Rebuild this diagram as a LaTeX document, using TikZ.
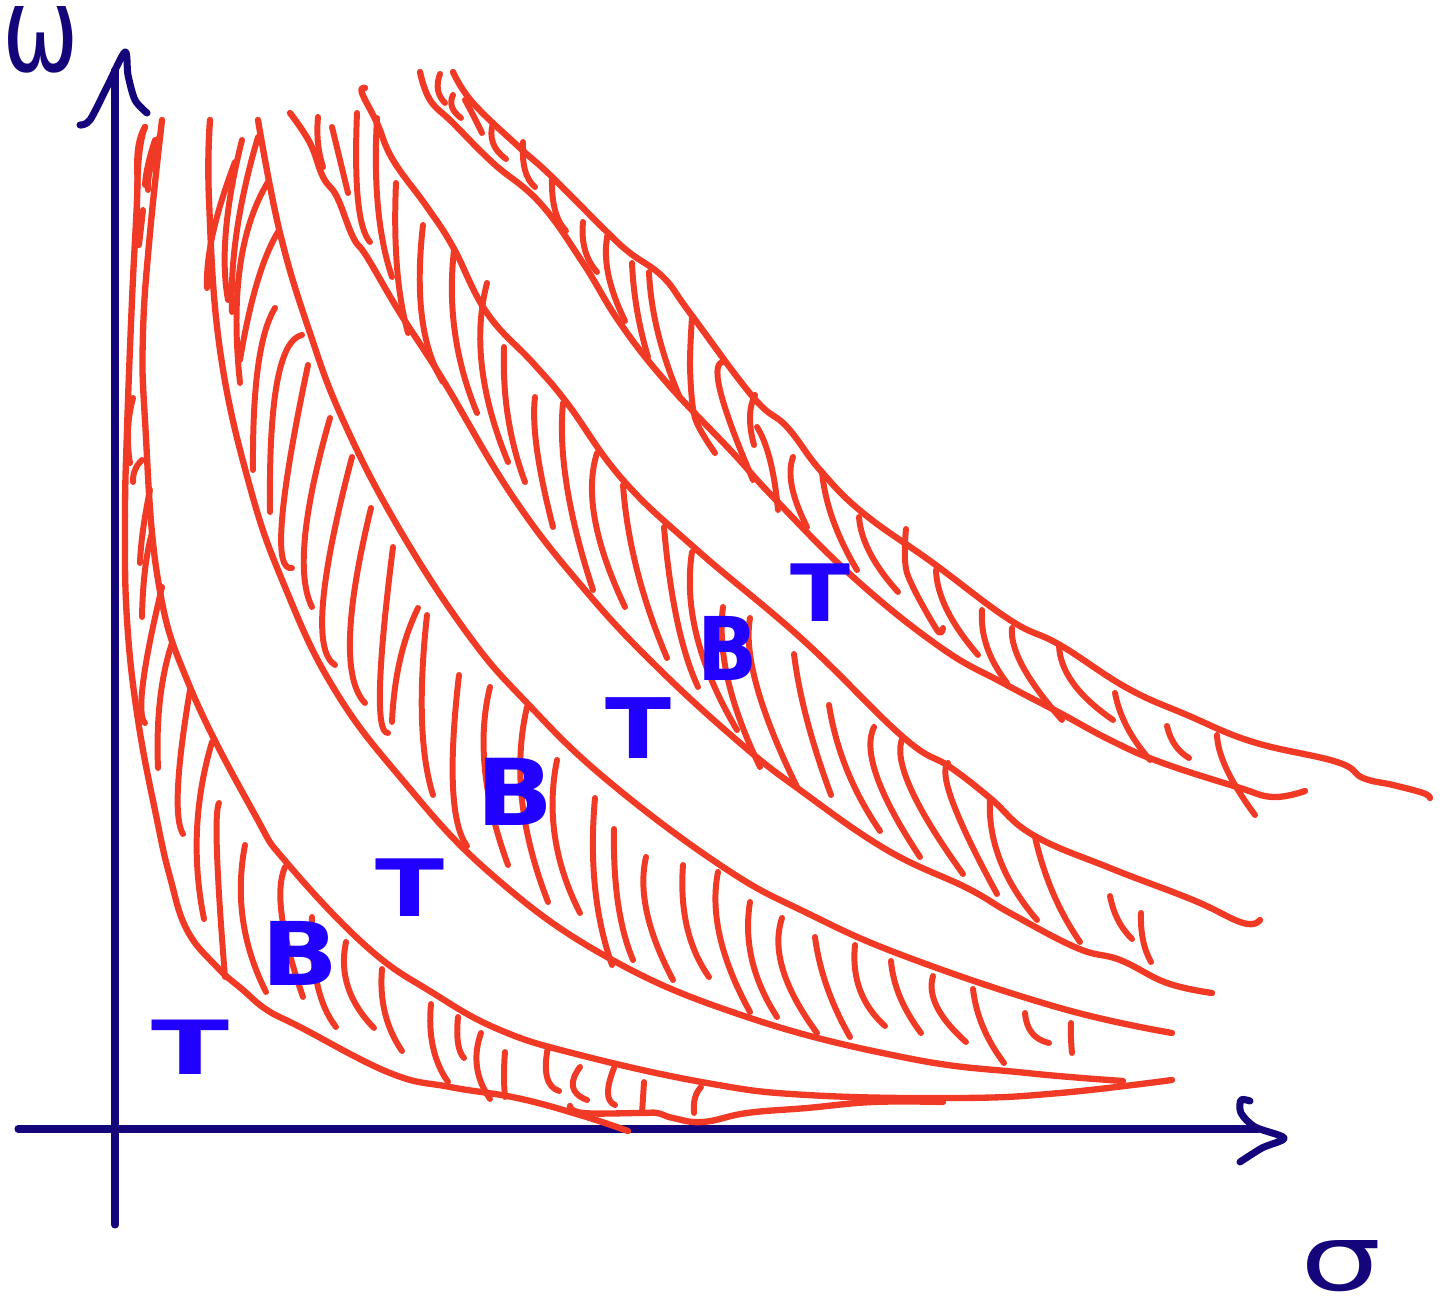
\documentclass[tikz,border=0pt]{standalone}
\usepackage{fontspec}
\setmainfont{DejaVu Sans}
\usepackage{tikz}
\definecolor{axisnavy}{HTML}{14057A}
\definecolor{bandred}{HTML}{F03A25}
\definecolor{markblue}{HTML}{2200FF}

\begin{document}
\begin{tikzpicture}[x=0.01cm, y=-0.01cm, line cap=round, line join=round,
        axis/.style={draw=axisnavy, line width=2pt},
        edge/.style={draw=bandred, line width=1.8pt},
        hatch/.style={draw=bandred, line width=1.7pt},
        letter/.style={text=markblue, font=\bfseries\fontsize{25}{25}\selectfont, inner sep=0pt},
        axislabel/.style={text=axisnavy, font=\fontsize{26}{26}\selectfont, inner sep=0pt}]
    \useasboundingbox (0,0) rectangle (1454,1301);

    \coordinate (xstart) at (18,1129);
    \coordinate (xend) at (1258,1129);
    \coordinate (ystart) at (115,1225);
    \coordinate (yend) at (115,70);
    \draw[axis] (xstart) -- (xend);
    \draw[axis] (ystart) -- (yend);
    \draw[axis] plot[smooth] coordinates {(80,125) (90,120) (108,85) (125,52) (128,75) (135,100) (147,113)};
    \draw[axis] plot[smooth] coordinates {(1250,1101) (1241,1100) (1241,1113) (1255,1127) (1284,1138) (1262,1148) (1240,1162)};

    \draw[edge] plot[smooth, tension=0.7] coordinates {(145,127) (138,150) (137,200) (132,300) (127,430) (125,520) (127,620) (138,720) (157,820) (170,877) (187,930) (217,967) (243,990) (267,1010) (300,1027) (390,1073) (450,1087) (517,1098) (580,1115) (628,1131)};
    \draw[edge] plot[smooth, tension=0.7] coordinates {(162,120) (150,233) (143,333) (145,420) (158,580) (190,687) (255,815) (287,863) (367,947) (433,993) (500,1030) (580,1055) (707,1083) (807,1095) (960,1098) (1060,1093) (1172,1080)};
    \draw[edge] plot[smooth, tension=0.7] coordinates {(570,1106) (583,1113) (640,1113) (657,1113) (673,1118) (703,1122) (747,1113) (807,1108) (873,1102) (943,1102)};
    \draw[edge] plot[smooth, tension=0.7] coordinates {(210,120) (209,200) (220,350) (250,487) (285,587) (333,687) (400,777) (490,873) (607,957) (747,1017) (907,1058) (1027,1073) (1123,1081)};
    \draw[edge] plot[smooth, tension=0.7] coordinates {(258,120) (280,233) (310,333) (343,420) (397,525) (467,633) (527,703) (607,780) (723,867) (807,913) (907,957) (1060,1008) (1172,1033)};
    \draw[edge] plot[smooth, tension=0.7] coordinates {(290,113) (310,143) (323,177) (337,197) (353,237) (367,257) (400,313) (443,380) (513,497) (585,590) (657,667) (740,743) (800,790) (887,850) (967,888) (1010,913) (1077,948) (1120,960) (1167,983) (1212,993)};
    \draw[edge] plot[smooth, tension=0.7] coordinates {(365,88) (362,93) (377,123) (393,160) (427,207) (453,247) (487,313) (533,363) (567,403) (623,480) (697,550) (803,640) (903,737) (950,767) (990,798) (1033,835) (1110,868) (1193,900) (1243,923) (1260,920)};
    \draw[edge] plot[smooth, tension=0.7] coordinates {(420,72) (430,100) (453,123) (493,163) (540,203) (583,263) (620,323) (667,383) (733,453) (773,497) (853,577) (940,647) (1003,683) (1060,713) (1110,740) (1160,762) (1237,787) (1273,797) (1305,791)};
    \draw[edge] plot[smooth, tension=0.7] coordinates {(453,72) (473,103) (520,148) (550,175) (607,232) (630,253) (663,277) (690,313) (753,397) (787,427) (820,470) (863,513) (933,563) (1010,620) (1060,645) (1127,688) (1187,715) (1253,742) (1337,762) (1363,778) (1393,785) (1423,793) (1430,798)};

    \foreach \xa/\ya/\xb/\yb/\xc/\yc in {
        145/127/138/170/138/245, 155/140/148/165/145/185, 160/135/150/170/148/190, 143/210/141/228/139/245,
        133/398/128/430/130/463, 142/460/135/470/133/482, 150/490/143/530/140/563, 152/533/145/570/142/617,
        162/587/143/683/145/723, 172/643/160/700/158/768, 190/690/178/787/183/834, 212/742/197/830/204/919,
        219/803/217/853/225/977, 245/845/243/920/266/992, 285/867/282/917/303/997, 312/917/317/983/336/1027,
        346/942/348/987/374/1028, 382/969/385/1013/402/1051, 431/1004/433/1047/448/1082, 458/1017/458/1043/464/1058,
        481/1033/477/1067/490/1099, 505/1052/504/1075/505/1097, 548/1047/547/1077/559/1091, 580/1067/573/1087/587/1100,
        614/1068/608/1093/615/1105, 644/1082/643/1098/642/1113, 701/1087/695/1098/694/1113,
        242/140/226/230/228/300, 235/162/213/233/207/288, 258/137/237/230/232/312, 278/232/257/283/240/360,
        268/182/240/267/240/383, 275/308/258/367/253/470, 302/335/277/383/270/512, 308/365/282/520/292/568,
        330/418/305/537/312/607, 352/457/323/603/335/665, 371/508/350/637/365/703, 393/547/380/687/388/733,
        418/608/400/660/392/722, 427/615/422/720/433/795, 459/675/453/787/467/846, 490/687/485/770/508/865,
        527/707/522/800/548/902, 557/760/555/837/580/913, 595/798/595/887/612/965, 614/829/618/903/633/960,
        646/857/647/913/673/980, 683/865/687/927/709/977, 718/872/720/937/750/1012, 750/902/752/960/777/1017,
        782/918/783/970/817/1033, 815/937/827/987/850/1037, 855/945/860/990/885/1026, 891/961/900/997/921/1033,
        933/976/937/1007/966/1042, 973/989/983/1027/1004/1063, 1025/1013/1032/1033/1049/1043, 1071/1023/1071/1038/1072/1053,
        318/117/318/143/323/167, 332/127/340/160/348/193, 357/113/358/200/370/242, 377/118/378/207/392/277,
        396/183/397/267/408/333, 423/225/422/317/443/382, 454/250/455/333/477/413, 487/283/482/367/508/462,
        504/347/508/417/525/482, 535/397/537/450/553/527, 563/403/567/487/593/590, 597/453/595/520/625/607,
        623/485/637/570/667/658, 664/527/677/620/698/687, 692/552/697/637/737/730, 723/607/728/680/760/767,
        750/618/757/687/797/787, 794/654/807/720/831/795, 829/705/847/770/880/831, 874/727/877/777/920/857,
        903/737/910/787/963/874, 948/763/953/803/997/894, 990/798/1000/860/1037/920, 1035/837/1053/893/1080/942,
        1110/896/1118/920/1132/939, 1141/913/1143/940/1151/962,
        440/74/438/90/445/103, 453/95/452/107/461/118, 465/100/472/113/482/133, 493/123/493/143/506/159,
        523/142/525/170/535/187, 552/178/555/210/566/231, 583/222/585/250/597/272, 608/233/608/273/625/321,
        632/263/637/310/648/357, 649/272/658/333/680/398, 725/362/720/390/753/480, 755/395/750/417/754/445,
        757/427/770/460/778/510, 793/457/792/487/807/527, 822/472/833/520/857/570, 859/517/870/553/898/592,
        936/570/947/610/978/655, 982/610/987/647/1007/683, 1012/628/1023/667/1062/720, 1059/645/1073/683/1113/720,
        1115/693/1127/727/1150/760, 1167/726/1175/745/1189/758, 1217/735/1227/770/1255/815}
        \draw[hatch] (\xa,\ya) .. controls ({(4*\xb-\xc)/3},{(4*\yb-\yc)/3}) and ({(4*\xb-\xa)/3},{(4*\yb-\ya)/3}) .. (\xc,\yc);
    \draw[hatch] plot[smooth] coordinates {(692,317) (690,367) (695,418) (715,453)};
    \draw[hatch] plot[smooth] coordinates {(906,529) (907,573) (937,630) (943,628)};

    \node[axislabel, yscale=1.3] (omega) at (41,40) {ω};
    \node[axislabel, xscale=1.4] (sigma) at (1341,1266) {σ};
    \node[letter, xscale=1.3, yscale=0.85] (t1) at (190,1047) {T};
    \node[letter, xscale=1.15, yscale=0.9] (t2) at (410,888) {T};
    \node[letter, xscale=1.1, yscale=0.95] (t3) at (638,728) {T};
    \node[letter, yscale=0.9] (t4) at (820,593) {T};
    \node[letter, xscale=1.15] (b1) at (300,953) {B};
    \node[letter, xscale=1.15, yscale=1.05] (b2) at (515,792) {B};
    \node[letter, xscale=0.9] (b3) at (728,648) {B};
\end{tikzpicture}
\end{document}
